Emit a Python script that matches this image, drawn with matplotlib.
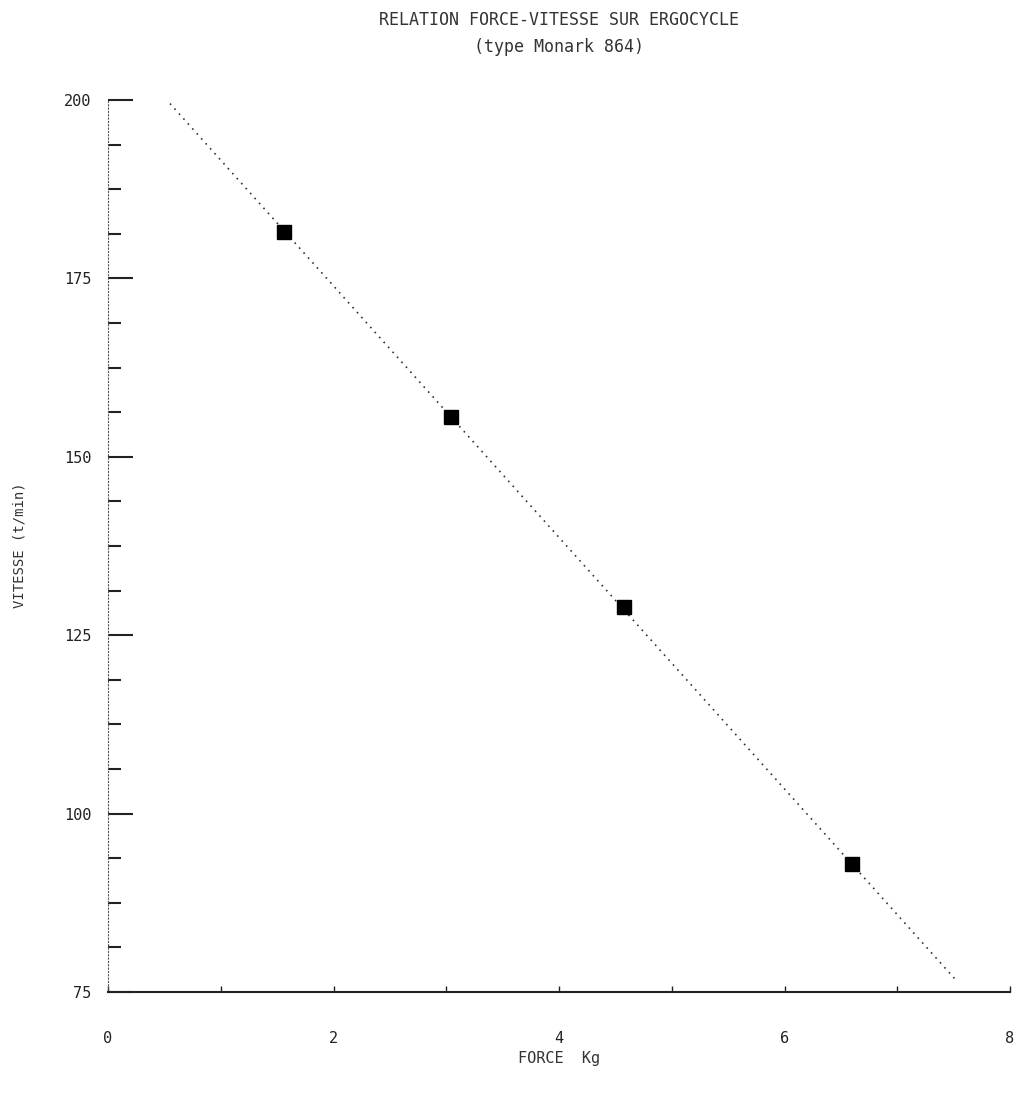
import matplotlib
matplotlib.use("Agg")
import matplotlib.pyplot as plt
import numpy as np

# Data
force_kg = [1.56, 3.04, 4.58, 6.60]
vitesse = [181.5, 155.6, 128.9, 93.0]
line_x = [0.55, 7.53]
line_y = [199.5, 76.5]
x_ticks = [0, 2, 4, 6, 8]
y_ticks = [75, 100, 125, 150, 175, 200]

plt.rcParams['font.family'] = ['DejaVu Sans Mono']

fig = plt.figure(figsize=(10.22, 10.98), dpi=100)
ax = fig.add_axes([108/1022, 1-992/1098, (1010-108)/1022, (992-100)/1098])

ax.plot(line_x, line_y, linestyle=(0, (1, 3)), color='#333333', linewidth=1.2)
ax.plot(force_kg, vitesse, linestyle='none', marker='s', markersize=10,
        color='black')

ax.set_xlim(0, 8)
ax.set_ylim(75, 200)
ax.set_xticks(x_ticks)
ax.set_yticks(y_ticks)
ax.set_yticks(np.arange(75, 200.1, 6.25), minor=True)
ax.set_xticks(np.arange(0, 8.01, 1), minor=True)
ax.tick_params(axis='y', which='major', direction='in', length=18, width=1.5,
               labelsize=11, pad=12, colors='#222222')
ax.tick_params(axis='y', which='minor', direction='in', length=9, width=1.5,
               colors='#222222')
ax.tick_params(axis='x', which='major', direction='in', length=4, width=1,
               labelsize=11, pad=28, colors='#222222')
ax.tick_params(axis='x', which='minor', direction='in', length=4, width=1,
               colors='#222222')

for s in ['top', 'right']:
    ax.spines[s].set_visible(False)
ax.spines['left'].set_linestyle((0, (1, 2)))
ax.spines['left'].set_color('#555555')
ax.spines['left'].set_linewidth(0.8)
ax.spines['bottom'].set_color('#222222')
ax.spines['bottom'].set_linewidth(1.5)

fig.text(559/1022, 1-20/1098, "RELATION FORCE-VITESSE SUR ERGOCYCLE",
         ha='center', va='center', fontsize=12, color='#333333')
fig.text(559/1022, 1-47/1098, "(type Monark 864)",
         ha='center', va='center', fontsize=12, color='#333333')
fig.text(559/1022, 1-1058/1098, "FORCE  Kg",
         ha='center', va='center', fontsize=11, color='#333333')
fig.text(20/1022, 1-545/1098, "VITESSE (t/min)", rotation=90,
         ha='center', va='center', fontsize=10, color='#333333')

fig.savefig("out.png", dpi=100, facecolor='white')
